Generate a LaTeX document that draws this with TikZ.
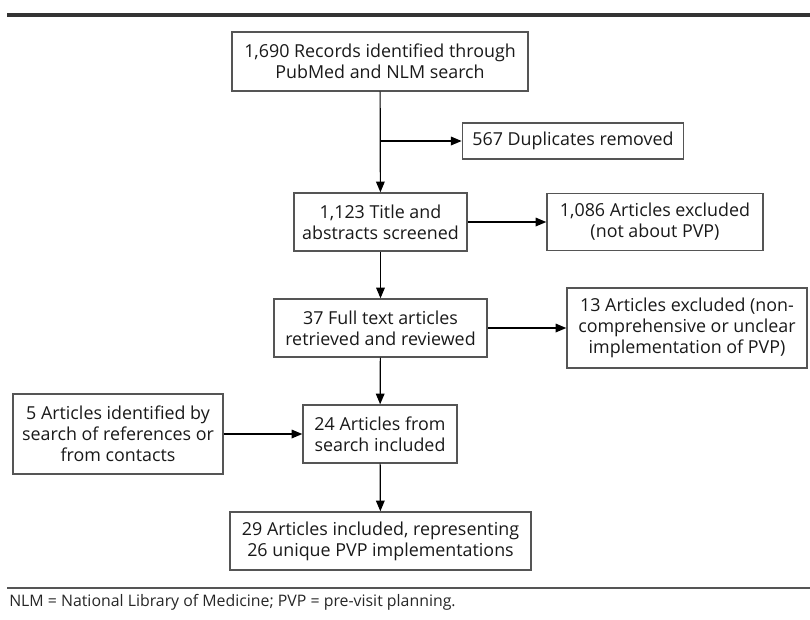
\documentclass[tikz,border=0pt]{standalone}
\usepackage{fontspec}
\setmainfont{Open Sans}
\usetikzlibrary{arrows.meta,positioning,calc}
\definecolor{rulegray}{HTML}{333333}
\definecolor{boxgray}{HTML}{555555}

\begin{document}
\begin{tikzpicture}[x=0.75pt, y=-0.75pt,
      box/.style={draw=boxgray, line width=1.1pt, inner sep=0pt, align=center,
                  font=\fontsize{13.4}{15.8}\selectfont, text=black!90},
      arr/.style={line width=0.9pt, -{Triangle[length=8pt, width=6.5pt]}}]
    \useasboundingbox (0,0) rectangle (810,619);
    \draw[rulegray, line width=3pt] (7,15) -- (810,15);
    \node[box, minimum width=222pt, minimum height=44pt] (rec) at (380,61.5)  {1,690 Records identified through\\PubMed and NLM search};
    \node[box, minimum width=166pt, minimum height=27pt] (dup) at (573,141)   {567 Duplicates removed};
    \node[box, minimum width=130pt, minimum height=43.5pt] (scr) at (380.5,222) {1,123 Title and\\abstracts screened};
    \node[box, minimum width=162pt, minimum height=43pt] (exc) at (655,222)   {1,086 Articles excluded\\(not about PVP)};
    \node[box, minimum width=160pt, minimum height=43.5pt] (ful) at (380.5,328) {37 Full text articles\\retrieved and reviewed};
    \node[box, minimum width=180pt, minimum height=60pt] (exn) at (687,328)   {13 Articles excluded (non-\\comprehensive or unclear\\implementation of PVP)};
    \node[box, minimum width=157.5pt, minimum height=60pt] (oth) at (118,434) {5 Articles identified by\\search of references or\\from contacts};
    \node[box, minimum width=115.5pt, minimum height=43.5pt] (inc) at (380,434) {24 Articles from\\search included};
    \node[box, minimum width=226pt, minimum height=43.5pt] (fin) at (380.5,541) {29 Articles included, representing\\26 unique PVP implementations};
    \coordinate (br) at (rec.south |- dup.west);
    \draw[arr] (rec) -- (scr);
    \draw[arr] (br) -- (dup);
    \draw[arr] (scr) -- (exc);
    \draw[arr] (scr) -- (ful);
    \draw[arr] (ful) -- (exn);
    \draw[arr] (ful) -- (inc);
    \draw[arr] (oth) -- (inc);
    \draw[arr] (inc) -- (fin);
    \draw[boxgray, line width=1.1pt] (7,588) -- (810,588);
    \node[anchor=west, inner sep=0pt, font=\fontsize{11.9}{14}\selectfont, text=black!85] (note) at (9,602)
      {NLM = National Library of Medicine; PVP = pre-visit planning.};
  \end{tikzpicture}
\end{document}
